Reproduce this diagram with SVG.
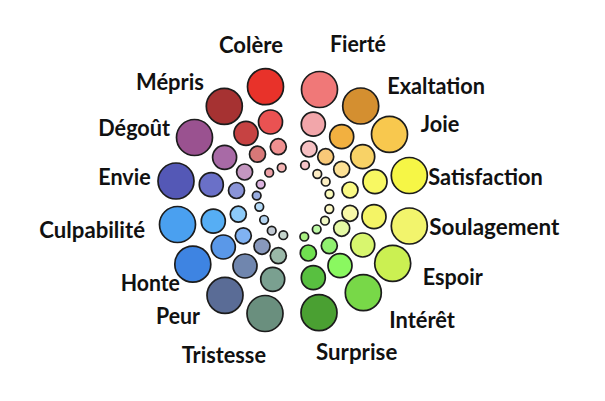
<svg xmlns="http://www.w3.org/2000/svg" width="605" height="401" viewBox="0 0 605 401">
<style>
circle{stroke:#1c1c1c;stroke-width:1.7}
text{font-family:Lato,"Open Sans","Liberation Sans",sans-serif;font-weight:bold;font-size:22px;fill:#111}
</style>
<rect width="605" height="401" fill="#fff"/>
<g id="colere">
<circle cx="265.5" cy="86.7" r="18" fill="#e8322a"/><circle cx="270.5" cy="122" r="12" fill="#ea5252"/><circle cx="278.3" cy="146.7" r="8" fill="#f09090"/><circle cx="281.7" cy="167.7" r="4.3" fill="#f4b4b4"/>
<text x="219" y="53.3" textLength="64" lengthAdjust="spacingAndGlyphs">Colère</text></g>
<g id="mepris">
<circle cx="224.3" cy="106.3" r="18" fill="#a63232"/><circle cx="246" cy="133.3" r="12" fill="#c64242"/><circle cx="257.5" cy="154.2" r="8" fill="#d87878"/><circle cx="269.2" cy="172.7" r="4.3" fill="#eca0a6"/>
<text x="136" y="90" textLength="68" lengthAdjust="spacingAndGlyphs">Mépris</text></g>
<g id="degout">
<circle cx="194.5" cy="137.5" r="18" fill="#9a5290"/><circle cx="224.6" cy="157.3" r="12" fill="#a86aa6"/><circle cx="244.6" cy="172" r="8" fill="#c496c0"/><circle cx="260.7" cy="184.3" r="4.3" fill="#dcb4e0"/>
<text x="98.3" y="135.7" textLength="71.7" lengthAdjust="spacingAndGlyphs">Dégoût</text></g>
<g id="envie">
<circle cx="176" cy="181" r="18" fill="#5458b6"/><circle cx="211.3" cy="184.7" r="12" fill="#6a70c8"/><circle cx="236.5" cy="190.5" r="8" fill="#8a94d8"/><circle cx="256.7" cy="195.6" r="4.3" fill="#98ace0"/>
<text x="98.3" y="185" textLength="52.4" lengthAdjust="spacingAndGlyphs">Envie</text></g>
<g id="culpabilite">
<circle cx="177.5" cy="224.5" r="18" fill="#4aa0f0"/><circle cx="213.3" cy="221.2" r="12" fill="#56aef4"/><circle cx="238.3" cy="214.2" r="8" fill="#8ccaf8"/><circle cx="259.3" cy="206.8" r="4.3" fill="#b4daf8"/>
<text x="39.3" y="238.3" textLength="105.7" lengthAdjust="spacingAndGlyphs">Culpabilité</text></g>
<g id="honte">
<circle cx="192.8" cy="264.2" r="18" fill="#3e84e2"/><circle cx="223.3" cy="247" r="12" fill="#5a98e8"/><circle cx="243.3" cy="235.8" r="8" fill="#80b2f2"/><circle cx="264.1" cy="219.8" r="4.3" fill="#b4d4f0"/>
<text x="120.7" y="290.7" textLength="59.3" lengthAdjust="spacingAndGlyphs">Honte</text></g>
<g id="peur">
<circle cx="225" cy="295.3" r="18" fill="#5a6c96"/><circle cx="245" cy="266" r="12" fill="#7086ae"/><circle cx="262" cy="246.3" r="8" fill="#8898bc"/><circle cx="271.7" cy="230.7" r="4.3" fill="#c0c8d2"/>
<text x="156" y="324" textLength="44" lengthAdjust="spacingAndGlyphs">Peur</text></g>
<g id="tristesse">
<circle cx="265" cy="313.5" r="18" fill="#6a8f7e"/><circle cx="272.7" cy="279.3" r="12" fill="#7aa090"/><circle cx="278.3" cy="255.7" r="8" fill="#9ab8a8"/><circle cx="283.3" cy="235.2" r="4.3" fill="#c4d4cc"/>
<text x="181.7" y="363.3" textLength="84.3" lengthAdjust="spacingAndGlyphs">Tristesse</text></g>
<g id="fierte">
<circle cx="319.5" cy="89.5" r="18" fill="#f07878"/><circle cx="313.3" cy="124.2" r="12" fill="#f2a6aa"/><circle cx="309" cy="149" r="8" fill="#f6c0c2"/><circle cx="305" cy="165.2" r="4.3" fill="#f6c4c8"/>
<text x="330" y="52.3" textLength="56" lengthAdjust="spacingAndGlyphs">Fierté</text></g>
<g id="exaltation">
<circle cx="360.7" cy="106" r="18" fill="#d48f30"/><circle cx="341.7" cy="136.7" r="12" fill="#f2b040"/><circle cx="325.7" cy="156.7" r="8" fill="#f8c878"/><circle cx="317.3" cy="174" r="4.3" fill="#fcecc4"/>
<text x="387.3" y="94" textLength="97.7" lengthAdjust="spacingAndGlyphs">Exaltation</text></g>
<g id="joie">
<circle cx="389.5" cy="134.3" r="18" fill="#f8c84e"/><circle cx="362.7" cy="156.7" r="12" fill="#f8d266"/><circle cx="341.7" cy="169.3" r="8" fill="#fce094"/><circle cx="325.7" cy="181.7" r="4.3" fill="#fdf0c4"/>
<text x="420.7" y="131.7" textLength="38.6" lengthAdjust="spacingAndGlyphs">Joie</text></g>
<g id="satisfaction">
<circle cx="409.3" cy="175.5" r="18" fill="#f6f646"/><circle cx="375" cy="181.7" r="12" fill="#f8f862"/><circle cx="350" cy="190" r="8" fill="#fafa84"/><circle cx="329.5" cy="194" r="4.3" fill="#fcfcbc"/>
<text x="428.3" y="185" textLength="114.4" lengthAdjust="spacingAndGlyphs">Satisfaction</text></g>
<g id="soulagement">
<circle cx="409.3" cy="226" r="18" fill="#f2f46c"/><circle cx="374" cy="216.7" r="12" fill="#f4f466"/><circle cx="350" cy="213.3" r="8" fill="#f8f8a8"/><circle cx="329.3" cy="209" r="4.3" fill="#fcf8c4"/>
<text x="429.3" y="235" textLength="130" lengthAdjust="spacingAndGlyphs">Soulagement</text></g>
<g id="espoir">
<circle cx="392.7" cy="263.3" r="18" fill="#cbf052"/><circle cx="362.7" cy="245" r="12" fill="#d8f66e"/><circle cx="341.7" cy="228.3" r="8" fill="#e4f8a4"/><circle cx="325" cy="220.7" r="4.3" fill="#f0f8c4"/>
<text x="422.7" y="285" textLength="60" lengthAdjust="spacingAndGlyphs">Espoir</text></g>
<g id="interet">
<circle cx="363.3" cy="292.7" r="18" fill="#78d848"/><circle cx="340" cy="265.7" r="12" fill="#8af860"/><circle cx="329.3" cy="245.7" r="8" fill="#90f070"/><circle cx="316.7" cy="229.3" r="4.3" fill="#bcf8a4"/>
<text x="389.3" y="327.7" textLength="65.7" lengthAdjust="spacingAndGlyphs">Intérêt</text></g>
<g id="surprise">
<circle cx="319" cy="312.7" r="18" fill="#4aa032"/><circle cx="313.3" cy="277.7" r="12" fill="#58c040"/><circle cx="308.3" cy="253" r="8" fill="#70e050"/><circle cx="304.3" cy="236.7" r="4.3" fill="#a8f080"/>
<text x="316" y="360" textLength="81.3" lengthAdjust="spacingAndGlyphs">Surprise</text></g>
</svg>
